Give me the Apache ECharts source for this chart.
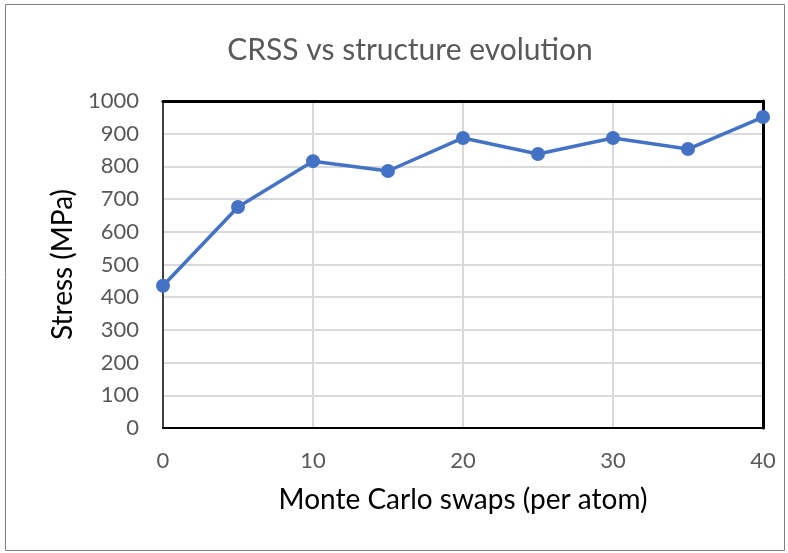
<!DOCTYPE html>
<html><head><meta charset="utf-8">
<script src="https://cdn.jsdelivr.net/npm/echarts@6/dist/echarts.min.js"></script>
<style>html,body{margin:0;padding:0;background:#fff}#c{width:788px;height:553px}</style>
</head><body><div id="c"></div>
<script>
const swaps = [0, 5, 10, 15, 20, 25, 30, 35, 40];
const stress = [435, 676, 816, 786, 887, 838, 887, 853, 951];
const titleText = 'CRSS vs structure evolution';
const xName = 'Monte Carlo swaps (per atom)';
const yName = 'Stress (MPa)';

const chart = echarts.init(document.getElementById('c'), null, {renderer: 'canvas'});
const font = 'Lato, "Open Sans", sans-serif';
const hidden = {show: false};
chart.setOption({
  animation: false,
  backgroundColor: '#fff',
  graphic: [{type: 'rect', shape: {x: 5.5, y: 4.5, width: 779, height: 546}, style: {fill: 'none', stroke: '#7f7f7f', lineWidth: 1}, silent: true}],
  title: {text: titleText, left: 405, top: 30, textAlign: 'center',
    textStyle: {fontFamily: font, fontSize: 30, fontWeight: 'normal', color: '#595959'}},
  grid: {left: 163, right: 25, top: 101, bottom: 125},
  xAxis: [{type: 'value', min: 0, max: 40, interval: 10,
    name: xName, nameLocation: 'middle', nameGap: 58,
    nameTextStyle: {fontFamily: font, fontSize: 28, color: '#000'},
    axisLine: {show: true, onZero: false, lineStyle: {color: '#000', width: 2}},
    axisTick: hidden,
    axisLabel: {fontFamily: font, fontSize: 22, color: '#595959', margin: 22},
    splitLine: {show: true, lineStyle: {color: '#d9d9d9', width: 2}}},
  {type: 'value', position: 'top', min: 0, max: 40, interval: 10,
    axisLine: {show: true, onZero: false, lineStyle: {color: '#000', width: 3}},
    axisTick: hidden, axisLabel: hidden, splitLine: hidden}],
  yAxis: [{type: 'value', min: 0, max: 1000, interval: 100,
    name: yName, nameLocation: 'middle', nameGap: 86, nameRotate: 90,
    nameTextStyle: {fontFamily: font, fontSize: 28, color: '#000'},
    axisLine: {show: true, onZero: false, lineStyle: {color: '#404040', width: 2}},
    axisTick: hidden,
    axisLabel: {fontFamily: font, fontSize: 22, color: '#595959', margin: 24, formatter: v => String(v)},
    splitLine: {show: true, lineStyle: {color: '#d9d9d9', width: 2}}},
  {type: 'value', position: 'right', min: 0, max: 1000, interval: 100,
    axisLine: {show: true, onZero: false, lineStyle: {color: '#000', width: 3}},
    axisTick: hidden, axisLabel: hidden, splitLine: hidden}],
  series: [{type: 'line', data: swaps.map((x, i) => [x, stress[i]]),
    symbol: 'circle', symbolSize: 14, z: 5,
    lineStyle: {color: '#4472C4', width: 3.5},
    itemStyle: {color: '#4472C4'}}]
});
</script></body></html>
